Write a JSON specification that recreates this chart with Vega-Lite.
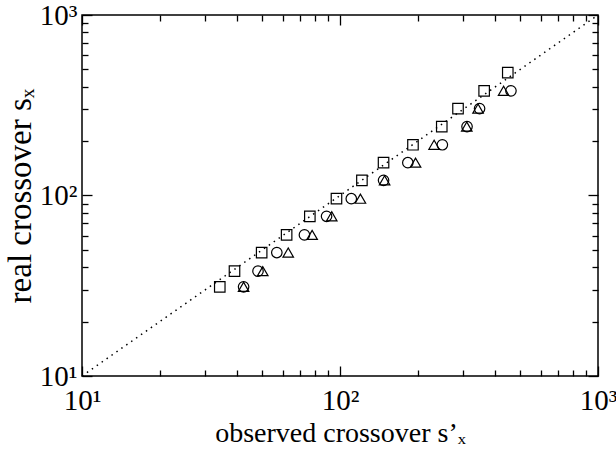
{
  "$schema": "https://vega.github.io/schema/vega-lite/v6.json",
  "width": 516,
  "height": 361,
  "autosize": {"type": "none"},
  "padding": {"left": 82, "top": 15, "right": 18, "bottom": 76},
  "background": "white",
  "config": {
    "font": "Liberation Serif",
    "view": {"stroke": "black", "strokeWidth": 1.5},
    "axis": {
      "grid": false,
      "domain": false,
      "tickColor": "black",
      "tickWidth": 1.3,
      "labelColor": "black",
      "titleColor": "black",
      "labelFont": "Liberation Serif",
      "titleFont": "Liberation Serif",
      "labelFontSize": 29,
      "titleFontSize": 28,
      "titleFontWeight": "normal",
      "labelOverlap": false,
      "labelFlush": false
    }
  },
  "datasets": {
    "diag": [{"s": 10}, {"s": 1000}],
    "cross": [
      {"run": "a", "observed": 34.2, "real": 31.2},
      {"run": "a", "observed": 39.0, "real": 38.1},
      {"run": "a", "observed": 49.7, "real": 48.3},
      {"run": "a", "observed": 62.1, "real": 60.5},
      {"run": "a", "observed": 76.4, "real": 76.7},
      {"run": "a", "observed": 96.9, "real": 96.0},
      {"run": "a", "observed": 121.6, "real": 121.3},
      {"run": "a", "observed": 147.5, "real": 152},
      {"run": "a", "observed": 191.8, "real": 191},
      {"run": "a", "observed": 248, "real": 241},
      {"run": "a", "observed": 286.7, "real": 303},
      {"run": "a", "observed": 362, "real": 380},
      {"run": "a", "observed": 447, "real": 480},
      {"run": "b", "observed": 42.3, "real": 31.2},
      {"run": "b", "observed": 48.1, "real": 38.1},
      {"run": "b", "observed": 56.9, "real": 48.3},
      {"run": "b", "observed": 72.8, "real": 60.5},
      {"run": "b", "observed": 88.7, "real": 76.7},
      {"run": "b", "observed": 110.6, "real": 96.0},
      {"run": "b", "observed": 147.5, "real": 121.3},
      {"run": "b", "observed": 183.2, "real": 152},
      {"run": "b", "observed": 249.3, "real": 191},
      {"run": "b", "observed": 310.7, "real": 241},
      {"run": "b", "observed": 347.5, "real": 303},
      {"run": "b", "observed": 459.8, "real": 380},
      {"run": "c", "observed": 42.3, "real": 31.2},
      {"run": "c", "observed": 50.2, "real": 38.1},
      {"run": "c", "observed": 63.0, "real": 48.3},
      {"run": "c", "observed": 78.0, "real": 60.5},
      {"run": "c", "observed": 92.9, "real": 76.7},
      {"run": "c", "observed": 120, "real": 96.0},
      {"run": "c", "observed": 148.9, "real": 121.3},
      {"run": "c", "observed": 196.3, "real": 152},
      {"run": "c", "observed": 231.6, "real": 191},
      {"run": "c", "observed": 310, "real": 241},
      {"run": "c", "observed": 342.8, "real": 303},
      {"run": "c", "observed": 430.6, "real": 380}
    ]
  },
  "layer": [
    {
      "data": {"name": "diag"},
      "mark": {"type": "line", "color": "black", "strokeWidth": 1.5, "strokeDash": [1.5, 4.5], "strokeCap": "butt"},
      "encoding": {
        "x": {
          "field": "s", "type": "quantitative",
          "scale": {"type": "log", "domain": [10, 1000], "nice": false},
          "axis": {
            "orient": "bottom",
            "values": [10, 20, 30, 40, 50, 60, 70, 80, 90, 100, 200, 300, 400, 500, 600, 700, 800, 900, 1000],
            "labelExpr": "datum.value == 10 ? '10¹' : datum.value == 100 ? '10²' : datum.value == 1000 ? '10³' : ''",
            "tickSize": {"condition": {"test": "datum.value == 10 || datum.value == 100 || datum.value == 1000", "value": -10}, "value": -6},
            "labelPadding": 20,
            "labelDx": 3,
            "title": "observed crossover s’ₓ",
            "titlePadding": 0
          }
        },
        "y": {
          "field": "s", "type": "quantitative",
          "scale": {"type": "log", "domain": [10, 1000], "nice": false},
          "axis": {
            "orient": "left",
            "values": [10, 20, 30, 40, 50, 60, 70, 80, 90, 100, 200, 300, 400, 500, 600, 700, 800, 900, 1000],
            "labelExpr": "datum.value == 10 ? '10¹' : datum.value == 100 ? '10²' : datum.value == 1000 ? '10³' : ''",
            "tickSize": {"condition": {"test": "datum.value == 10 || datum.value == 100 || datum.value == 1000", "value": -10}, "value": -6},
            "labelPadding": 15,
            "labelDy": 5,
            "title": "real crossover sₓ",
            "titleFontSize": 33,
            "titlePadding": 2
          }
        }
      }
    },
    {
      "data": {"name": "cross"},
      "mark": {"type": "point", "filled": false, "color": "black", "strokeWidth": 1.2, "size": 110, "opacity": 1},
      "encoding": {
        "x": {
          "field": "observed", "type": "quantitative",
          "scale": {"type": "log", "domain": [10, 1000], "nice": false},
          "axis": {
            "orient": "top",
            "values": [10, 20, 30, 40, 50, 60, 70, 80, 90, 100, 200, 300, 400, 500, 600, 700, 800, 900, 1000],
            "labels": false,
            "tickSize": {"condition": {"test": "datum.value == 10 || datum.value == 100 || datum.value == 1000", "value": -10}, "value": -6},
            "title": null
          }
        },
        "y": {
          "field": "real", "type": "quantitative",
          "scale": {"type": "log", "domain": [10, 1000], "nice": false},
          "axis": {
            "orient": "right",
            "values": [10, 20, 30, 40, 50, 60, 70, 80, 90, 100, 200, 300, 400, 500, 600, 700, 800, 900, 1000],
            "labels": false,
            "tickSize": {"condition": {"test": "datum.value == 10 || datum.value == 100 || datum.value == 1000", "value": -10}, "value": -6},
            "title": null
          }
        },
        "shape": {
          "field": "run", "type": "nominal",
          "scale": {"domain": ["a", "b", "c"], "range": ["square", "circle", "triangle-up"]},
          "legend": null
        }
      }
    }
  ],
  "resolve": {"axis": {"x": "independent", "y": "independent"}}
}
